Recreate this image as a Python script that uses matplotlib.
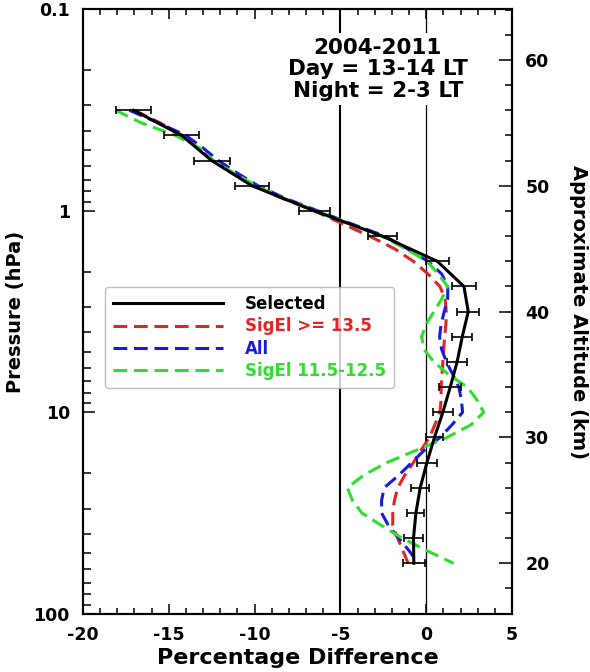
import matplotlib
matplotlib.use("Agg")
import matplotlib.pyplot as plt
from matplotlib.ticker import MultipleLocator, LogLocator, NullFormatter, FixedLocator, FixedFormatter

# Selected profile (2 km levels) with error bars
alt_sel = [56, 54, 52, 50, 48, 46, 44, 42, 40, 38, 36, 34, 32, 30, 28, 26, 24, 22, 20]
selected = [-17.05, -14.25, -12.5, -10.15, -6.5, -2.55, 0.65, 2.2, 2.45, 2.1,
            1.8, 1.4, 0.97, 0.48, 0.04, -0.35, -0.6, -0.74, -0.72]
selected_err = [1.0, 1.03, 1.05, 1.0, 0.9, 0.83, 0.68, 0.7, 0.64, 0.58,
                0.58, 0.63, 0.58, 0.49, 0.58, 0.53, 0.5, 0.58, 0.65]

# other profiles (1 km levels, 56 -> 20 km)
alt_fine = list(range(56, 19, -1))
sigel_135 = [-17.0, -15.5, -14.2, -13.3, -12.4, -11.3, -10.0, -8.4, -6.5, -4.9,
             -3.3, -1.85, -0.75, 0.1, 0.8, 1.1, 1.17, 1.15, 1.07, 1.02,
             0.97, 0.92, 0.87, 0.87, 0.8, 0.5, 0.19, -0.3, -0.75, -1.25,
             -1.66, -1.85, -1.95, -1.95, -1.66, -1.36, -1.05]
all_obs = [-17.3, -15.6, -14.0, -13.0, -12.1, -11.0, -9.8, -8.2, -6.3, -4.4,
           -2.4, -1.1, 0.1, 0.9, 1.26, 1.25, 1.05, 0.87, 0.78, 0.9,
           1.18, 1.55, 1.9, 2.05, 2.12, 1.5, 0.8, -0.1, -0.85, -1.6,
           -2.45, -2.6, -2.6, -2.2, -1.6, -1.0, -0.45]
sigel_115 = [-18.1, -16.6, -14.6, -13.2, -12.4, -11.2, -9.9, -8.3, -6.4, -4.5,
             -2.6, -1.2, 0.05, 0.7, 1.25, 0.9, 0.45, 0.0, -0.27, -0.12,
             0.45, 1.3, 2.4, 2.95, 3.35, 2.6, 1.2, -0.55, -2.3, -3.65,
             -4.6, -4.3, -3.75, -2.6, -1.4, 0.05, 1.6]

red = '#e32424'
blue = '#1a1adb'
green = '#2ee02e'

plt.rcParams['font.family'] = 'DejaVu Sans'
plt.rcParams['axes.unicode_minus'] = False

fig = plt.figure(figsize=(5.9, 6.72), dpi=100)
ax = fig.add_axes([0.1407, 0.0863, 0.7271, 0.8999])

# pressure axis
ax.set_xlim(-20, 5)
ax.set_yscale('log')
ax.set_ylim(100, 0.1)
ax.yaxis.set_major_locator(FixedLocator([0.1, 1, 10, 100]))
ax.yaxis.set_major_formatter(FixedFormatter(['0.1', '1', '10', '100']))
ax.yaxis.set_minor_locator(LogLocator(base=10, subs=range(2, 10)))
ax.yaxis.set_minor_formatter(NullFormatter())
ax.xaxis.set_major_locator(MultipleLocator(5))
ax.xaxis.set_minor_locator(MultipleLocator(1))
ax.tick_params(axis='x', which='both', direction='in', top=True, bottom=True,
               width=1.1, pad=8.5, labelsize=12.5)
ax.tick_params(axis='x', which='major', length=7.5)
ax.tick_params(axis='x', which='minor', length=4)
ax.tick_params(axis='y', which='both', direction='in', left=True, right=False,
               width=1.1, pad=9.5, labelsize=12.5)
ax.tick_params(axis='y', which='major', length=8.5)
ax.tick_params(axis='y', which='minor', length=5.5)
for lab in ax.get_xticklabels() + ax.get_yticklabels():
    lab.set_fontweight('bold')
for sp in ax.spines.values():
    sp.set_linewidth(1.5)

ax.axvline(-5, color='k', lw=1.5, zorder=1)
ax.axvline(0, color='k', lw=0.9, zorder=1)

ax.set_xlabel('Percentage Difference', fontsize=16, fontweight='bold', labelpad=3)
ax.set_ylabel('Pressure (hPa)', fontsize=14, fontweight='bold', labelpad=6)

ax.text(0.687, 0.901, '2004-2011\nDay = 13-14 LT\nNight = 2-3 LT',
        transform=ax.transAxes, ha='center', va='center', fontsize=15.5,
        fontweight='bold', linespacing=1.1, zorder=4,
        bbox=dict(facecolor='white', edgecolor='none', pad=3))

# altitude axis
ax2 = ax.twinx()
ax2.set_ylim(15.97, 64.03)
ax2.yaxis.set_major_locator(MultipleLocator(10))
ax2.yaxis.set_minor_locator(MultipleLocator(2))
ax2.tick_params(axis='y', which='both', direction='in', width=1.1, pad=9.5,
                labelsize=12.5)
ax2.tick_params(axis='y', which='major', length=9.4)
ax2.tick_params(axis='y', which='minor', length=4.8)
for lab in ax2.get_yticklabels():
    lab.set_fontweight('bold')
for sp in ax2.spines.values():
    sp.set_linewidth(1.5)
ax2.set_ylabel('Approximate Altitude (km)', rotation=-90, fontsize=14,
               fontweight='bold', va='bottom', labelpad=14)

dash = (4.5, 2.2)
l_red, = ax2.plot(sigel_135, alt_fine, color=red, lw=2.2, dashes=dash)
l_blue, = ax2.plot(all_obs, alt_fine, color=blue, lw=2.2, dashes=dash)
l_green, = ax2.plot(sigel_115, alt_fine, color=green, lw=2.2, dashes=dash)
l_sel, = ax2.plot(selected, alt_sel, color='k', lw=2.2)
ax2.errorbar(selected, alt_sel, xerr=selected_err, fmt='none', ecolor='k',
             elinewidth=1.2, capsize=3, capthick=1.2, zorder=3)

leg = ax2.legend([l_sel, l_red, l_blue, l_green],
                 ['Selected', 'SigEl >= 13.5', 'All', 'SigEl 11.5-12.5'],
                 loc='upper left', bbox_to_anchor=(0.051, 0.541),
                 borderaxespad=0, handlelength=6.6, handletextpad=1.3,
                 labelspacing=0.25, borderpad=0.5, fancybox=True,
                 prop={'weight': 'bold', 'size': 12},
                 labelcolor=['k', red, blue, green])
leg.get_frame().set_edgecolor('#b0b0b0')
leg.get_frame().set_linewidth(1.0)

fig.savefig('out.png', dpi=100)
